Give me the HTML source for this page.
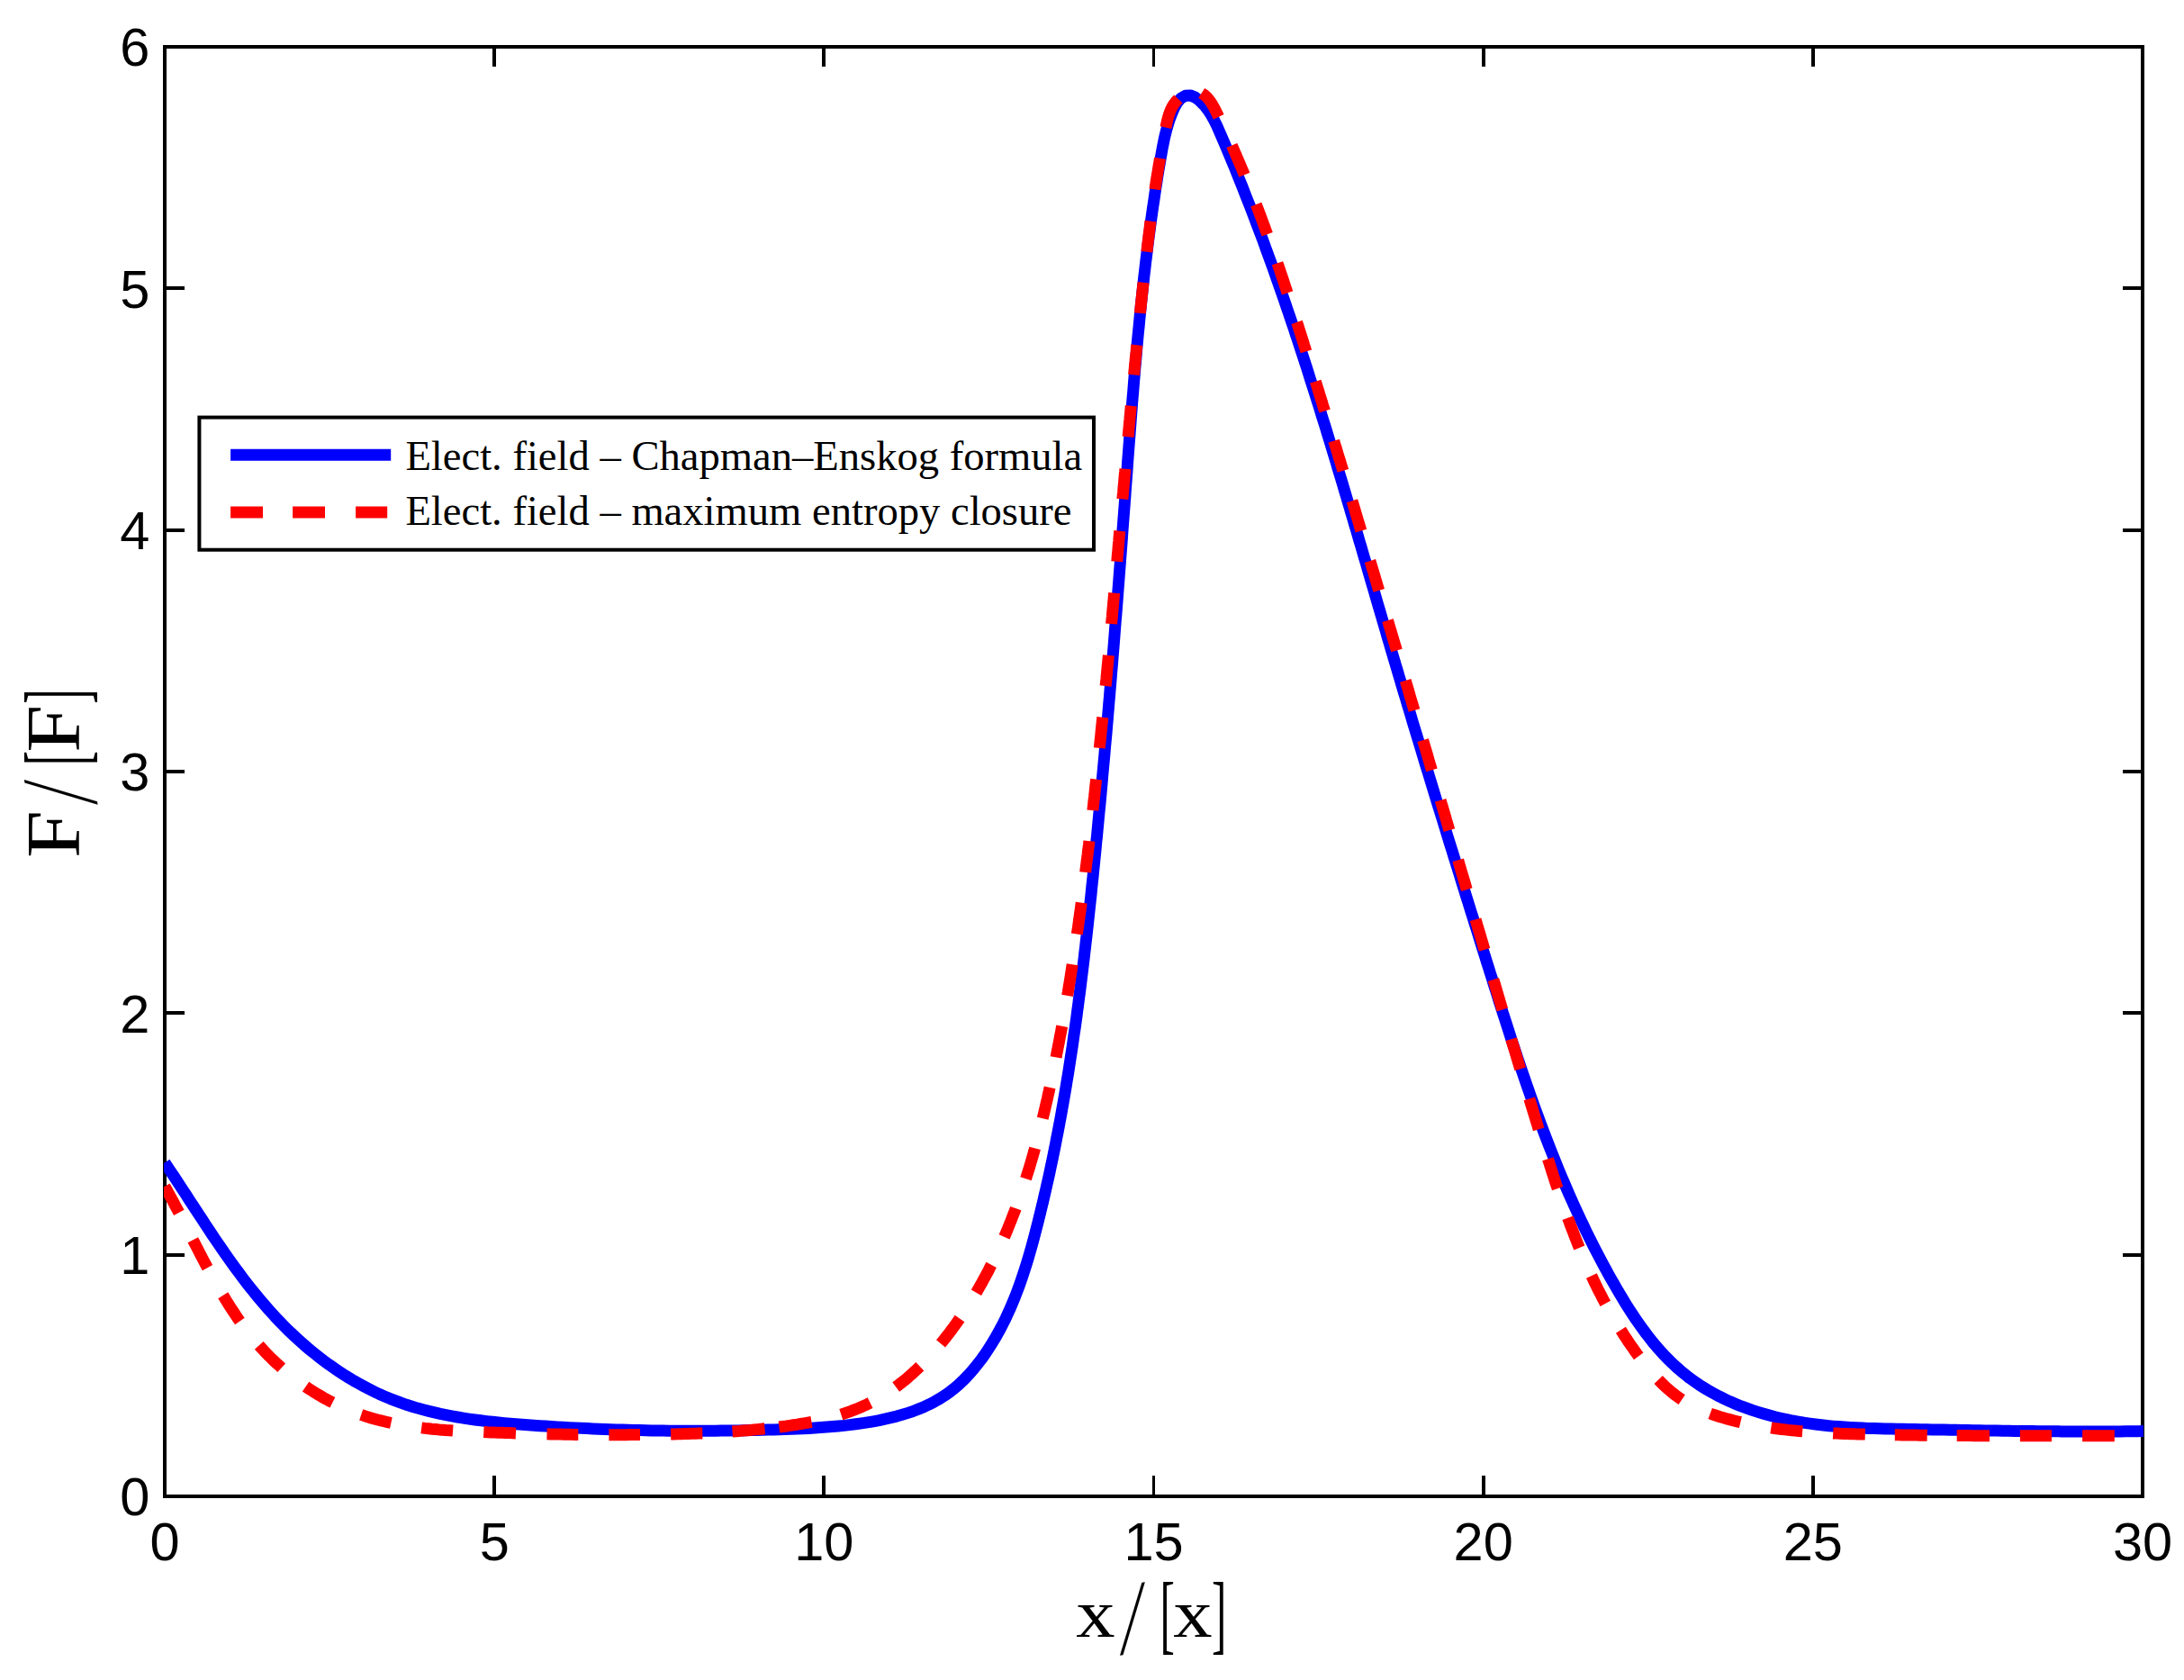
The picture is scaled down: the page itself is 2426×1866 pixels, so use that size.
<!DOCTYPE html>
<html lang="en">
<head>
<meta charset="utf-8">
<title>Electric field profile</title>
<style>
html,body{margin:0;padding:0;background:#fff;}
body{width:2426px;height:1866px;overflow:hidden;}
svg{display:block;}
.tick{font-family:"Liberation Sans",Arial,Helvetica,sans-serif;font-size:59.5px;fill:#000;}
.leg{font-family:"Liberation Serif","Times New Roman",Times,serif;font-size:46.6px;fill:#000;}
.tex{font-family:"Liberation Serif","Times New Roman",Times,serif;fill:#000;}
</style>
</head>
<body>
<svg width="2426" height="1866" viewBox="0 0 2426 1866">
<rect width="2426" height="1866" fill="#fff"/>
<defs><clipPath id="ax"><rect x="182" y="52.0" width="2199.2" height="1610.0"/></clipPath></defs>
<!-- axes box and ticks -->
<rect x="183.0" y="52.0" width="2197.0" height="1610.0" fill="none" stroke="#000" stroke-width="4.0"/>
<path d="M549 1662 V1639 M549 52 V74 M915 1662 V1639 M915 52 V74 M1648 1662 V1639 M1648 52 V74 M2014 1662 V1639 M2014 52 V74 M183 1394 H205 M2380 1394 H2358 M183 1125 H205 M2380 1125 H2358 M183 857 H205 M2380 857 H2358 M183 589 H205 M2380 589 H2358 M183 320 H205 M2380 320 H2358" fill="none" stroke="#000" stroke-width="4.0" shape-rendering="crispEdges"/>
<path d="M1281.5 1662 V1639 M1281.5 52 V74" fill="none" stroke="#000" stroke-width="3" shape-rendering="crispEdges"/>
<!-- curves -->
<g clip-path="url(#ax)" fill="none" stroke-linejoin="round">
<path d="M183 1291.4 L185.3 1294.9 L189 1300.3 L192.6 1305.7 L196.2 1311.1 L199.7 1316.5 L203.3 1322 L206.9 1327.4 L210.4 1332.9 L214 1338.4 L217.6 1343.8 L221.1 1349.3 L224.7 1354.7 L228.3 1360.2 L231.9 1365.6 L235.5 1371.1 L239.1 1376.5 L242.8 1381.9 L246.5 1387.2 L250.2 1392.6 L253.9 1397.9 L257.7 1403.2 L261.5 1408.5 L265.4 1413.7 L269.3 1419 L273.2 1424.1 L277.2 1429.2 L281.3 1434.3 L285.4 1439.4 L289.6 1444.4 L293.8 1449.3 L298.1 1454.2 L302.4 1459 L306.8 1463.8 L311.3 1468.5 L315.9 1473.2 L320.5 1477.8 L325.2 1482.3 L330 1486.8 L334.9 1491.2 L339.8 1495.5 L344.8 1499.7 L349.9 1503.8 L355 1507.8 L360.2 1511.8 L365.5 1515.7 L370.8 1519.4 L376.2 1523.1 L381.7 1526.7 L387.2 1530.1 L392.8 1533.5 L398.4 1536.7 L404.1 1539.8 L409.9 1542.8 L415.7 1545.7 L421.5 1548.5 L427.4 1551.1 L433.4 1553.6 L439.4 1555.9 L445.5 1558.2 L451.6 1560.3 L457.7 1562.2 L463.9 1564.1 L470.1 1565.8 L476.4 1567.4 L482.7 1568.9 L489.1 1570.4 L495.4 1571.7 L501.8 1572.9 L508.2 1574 L514.7 1575.1 L521.2 1576.1 L527.6 1577 L534.2 1577.8 L540.7 1578.6 L547.2 1579.3 L553.8 1580 L560.3 1580.6 L566.9 1581.2 L573.4 1581.8 L580 1582.3 L586.5 1582.8 L593.1 1583.2 L599.7 1583.7 L606.2 1584.1 L612.8 1584.5 L619.3 1584.9 L625.8 1585.3 L632.4 1585.7 L638.9 1586 L645.4 1586.3 L651.9 1586.6 L658.5 1586.9 L665 1587.2 L671.5 1587.5 L678 1587.7 L684.5 1587.9 L691 1588.1 L697.5 1588.3 L704 1588.5 L710.5 1588.6 L717 1588.8 L723.5 1588.9 L730 1589 L736.4 1589.1 L742.9 1589.2 L749.4 1589.2 L755.9 1589.3 L762.4 1589.3 L768.8 1589.3 L775.3 1589.3 L781.8 1589.3 L788.3 1589.3 L794.8 1589.2 L801.2 1589.1 L807.7 1589.1 L814.2 1589 L820.7 1588.9 L827.2 1588.8 L833.6 1588.6 L840.1 1588.5 L846.6 1588.3 L853.1 1588.1 L859.6 1587.9 L866 1587.7 L872.5 1587.5 L879 1587.3 L885.5 1587 L892 1586.7 L898.5 1586.4 L905 1586 L911.5 1585.6 L918 1585.1 L924.5 1584.6 L931 1584 L937.5 1583.4 L944 1582.6 L950.5 1581.8 L957.1 1580.9 L963.6 1579.9 L970.1 1578.8 L976.6 1577.6 L983.1 1576.2 L989.6 1574.7 L996 1573.1 L1002.3 1571.3 L1008.6 1569.4 L1014.7 1567.3 L1020.8 1564.9 L1026.8 1562.4 L1032.6 1559.7 L1038.3 1556.7 L1043.9 1553.5 L1049.3 1550.1 L1054.6 1546.4 L1059.6 1542.4 L1064.6 1538.2 L1069.3 1533.8 L1073.9 1529.2 L1078.3 1524.4 L1082.5 1519.4 L1086.6 1514.3 L1090.6 1509.1 L1094.4 1503.8 L1098 1498.3 L1101.5 1492.8 L1104.9 1487.2 L1108.1 1481.5 L1111.3 1475.8 L1114.2 1470.1 L1117.1 1464.3 L1119.8 1458.4 L1122.5 1452.5 L1125 1446.5 L1127.5 1440.5 L1129.8 1434.5 L1132.1 1428.4 L1134.2 1422.3 L1136.3 1416.1 L1138.3 1409.9 L1140.3 1403.7 L1142.2 1397.5 L1144 1391.2 L1145.8 1385 L1147.5 1378.7 L1149.2 1372.4 L1150.8 1366.1 L1152.5 1359.7 L1154 1353.4 L1155.6 1347.1 L1157.1 1340.7 L1158.7 1334.4 L1160.1 1328 L1161.6 1321.7 L1163 1315.3 L1164.5 1309 L1165.9 1302.6 L1167.2 1296.2 L1168.6 1289.9 L1169.9 1283.5 L1171.2 1277.1 L1172.5 1270.7 L1173.7 1264.3 L1175 1257.9 L1176.2 1251.5 L1177.4 1245.1 L1178.6 1238.7 L1179.7 1232.3 L1180.9 1225.9 L1182 1219.5 L1183.1 1213.1 L1184.2 1206.6 L1185.2 1200.2 L1186.3 1193.8 L1187.3 1187.4 L1188.3 1180.9 L1189.3 1174.5 L1190.3 1168 L1191.3 1161.6 L1192.2 1155.2 L1193.1 1148.7 L1194.1 1142.3 L1195 1135.8 L1195.9 1129.4 L1196.7 1122.9 L1197.6 1116.4 L1198.4 1110 L1199.3 1103.5 L1200.1 1097.1 L1200.9 1090.6 L1201.7 1084.1 L1202.5 1077.7 L1203.3 1071.2 L1204.1 1064.7 L1204.8 1058.2 L1205.6 1051.8 L1206.3 1045.3 L1207.1 1038.8 L1207.8 1032.4 L1208.5 1025.9 L1209.2 1019.4 L1209.9 1012.9 L1210.6 1006.4 L1211.3 1000 L1212 993.5 L1212.6 987 L1213.3 980.5 L1214 974.1 L1214.6 967.6 L1215.3 961.1 L1215.9 954.6 L1216.6 948.1 L1217.2 941.7 L1217.8 935.2 L1218.5 928.7 L1219.1 922.2 L1219.7 915.8 L1220.3 909.3 L1220.9 902.8 L1221.6 896.3 L1222.2 889.9 L1222.8 883.4 L1223.4 876.9 L1224 870.4 L1224.5 863.9 L1225.1 857.5 L1225.7 851 L1226.3 844.5 L1226.9 838 L1227.4 831.6 L1228 825.1 L1228.6 818.6 L1229.2 812.1 L1229.7 805.7 L1230.3 799.2 L1230.8 792.7 L1231.4 786.2 L1231.9 779.7 L1232.5 773.3 L1233 766.8 L1233.6 760.3 L1234.1 753.8 L1234.6 747.3 L1235.2 740.9 L1235.7 734.4 L1236.2 727.9 L1236.8 721.4 L1237.3 714.9 L1237.8 708.4 L1238.3 702 L1238.8 695.5 L1239.3 689 L1239.9 682.5 L1240.4 676 L1240.9 669.5 L1241.4 663 L1241.9 656.5 L1242.4 650 L1242.9 643.6 L1243.4 637.1 L1243.9 630.6 L1244.4 624.1 L1244.9 617.6 L1245.4 611.1 L1245.9 604.6 L1246.4 598.1 L1246.8 591.6 L1247.3 585.1 L1247.8 578.6 L1248.3 572.1 L1248.8 565.6 L1249.3 559.1 L1249.8 552.5 L1250.2 546 L1250.7 539.5 L1251.2 533 L1251.7 526.5 L1252.2 520 L1252.6 513.5 L1253.1 507 L1253.6 500.4 L1254.1 493.9 L1254.6 487.4 L1255.1 480.9 L1255.6 474.4 L1256.1 467.9 L1256.6 461.3 L1257.1 454.8 L1257.6 448.3 L1258.1 441.8 L1258.7 435.3 L1259.2 428.8 L1259.7 422.3 L1260.3 415.8 L1260.8 409.3 L1261.4 402.8 L1262 396.3 L1262.5 389.8 L1263.1 383.3 L1263.7 376.8 L1264.3 370.3 L1265 363.8 L1265.6 357.3 L1266.2 350.8 L1266.9 344.3 L1267.5 337.8 L1268.2 331.4 L1268.9 324.9 L1269.6 318.4 L1270.3 312 L1271 305.5 L1271.8 299 L1272.5 292.6 L1273.3 286.1 L1274.1 279.7 L1274.9 273.2 L1275.7 266.8 L1276.5 260.4 L1277.4 253.9 L1278.2 247.5 L1279.1 241.1 L1280 234.7 L1280.9 228.3 L1281.9 221.9 L1282.8 215.5 L1283.8 209.1 L1284.8 202.7 L1285.8 196.3 L1286.8 189.9 L1287.9 183.6 L1289 177.2 L1290.1 170.9 L1291.2 164.5 L1292.5 158.1 L1293.8 151.8 L1295.4 145.4 L1297.2 139 L1299.2 132.6 L1301.7 126.1 L1304.5 119.7 L1307.8 113.8 L1311.8 109.1 L1316.7 106.3 L1322.1 105.9 L1327.6 108.1 L1332.9 112.1 L1337.8 117.1 L1342 122.5 L1345.6 128.1 L1348.8 133.8 L1351.7 139.7 L1354.3 145.6 L1356.9 151.6 L1359.5 157.6 L1362 163.6 L1364.5 169.6 L1367 175.6 L1369.5 181.6 L1372 187.6 L1374.4 193.6 L1376.8 199.6 L1379.3 205.7 L1381.6 211.7 L1384 217.8 L1386.4 223.8 L1388.8 229.9 L1391.1 235.9 L1393.4 242 L1395.7 248.1 L1398 254.2 L1400.3 260.2 L1402.6 266.3 L1404.8 272.4 L1407 278.5 L1409.3 284.7 L1411.5 290.8 L1413.7 296.9 L1415.9 303 L1418 309.2 L1420.2 315.3 L1422.3 321.4 L1424.5 327.6 L1426.6 333.7 L1428.7 339.9 L1430.8 346 L1432.9 352.2 L1435 358.4 L1437.1 364.5 L1439.1 370.7 L1441.2 376.9 L1443.2 383.1 L1445.2 389.3 L1447.3 395.5 L1449.3 401.7 L1451.3 407.8 L1453.3 414.1 L1455.2 420.3 L1457.2 426.5 L1459.2 432.7 L1461.2 438.9 L1463.1 445.1 L1465.1 451.3 L1467 457.5 L1468.9 463.8 L1470.9 470 L1472.8 476.2 L1474.7 482.5 L1476.6 488.7 L1478.5 494.9 L1480.4 501.2 L1482.3 507.4 L1484.2 513.6 L1486 519.9 L1487.9 526.1 L1489.8 532.4 L1491.7 538.6 L1493.5 544.9 L1495.4 551.1 L1497.2 557.4 L1499.1 563.6 L1500.9 569.9 L1502.8 576.1 L1504.6 582.4 L1506.5 588.7 L1508.3 594.9 L1510.1 601.2 L1512 607.4 L1513.8 613.7 L1515.6 620 L1517.5 626.2 L1519.3 632.5 L1521.1 638.7 L1522.9 645 L1524.8 651.3 L1526.6 657.5 L1528.4 663.8 L1530.2 670 L1532.1 676.3 L1533.9 682.5 L1535.7 688.8 L1537.6 695.1 L1539.4 701.3 L1541.2 707.6 L1543.1 713.8 L1544.9 720.1 L1546.7 726.3 L1548.6 732.6 L1550.4 738.8 L1552.3 745 L1554.1 751.3 L1556 757.5 L1557.8 763.8 L1559.7 770 L1561.6 776.2 L1563.4 782.5 L1565.3 788.7 L1567.2 794.9 L1569 801.2 L1570.9 807.4 L1572.8 813.6 L1574.7 819.9 L1576.6 826.1 L1578.5 832.3 L1580.3 838.5 L1582.2 844.8 L1584.1 851 L1586 857.2 L1587.9 863.4 L1589.8 869.7 L1591.7 875.9 L1593.6 882.1 L1595.5 888.3 L1597.4 894.5 L1599.3 900.7 L1601.3 907 L1603.2 913.2 L1605.1 919.4 L1607 925.6 L1608.9 931.8 L1610.8 938 L1612.8 944.3 L1614.7 950.5 L1616.6 956.7 L1618.6 962.9 L1620.5 969.1 L1622.4 975.3 L1624.3 981.5 L1626.3 987.7 L1628.2 994 L1630.2 1000.2 L1632.1 1006.4 L1634 1012.6 L1636 1018.8 L1637.9 1025 L1639.9 1031.2 L1641.8 1037.4 L1643.7 1043.7 L1645.7 1049.9 L1647.6 1056.1 L1649.6 1062.3 L1651.5 1068.5 L1653.5 1074.7 L1655.4 1080.9 L1657.4 1087.1 L1659.3 1093.4 L1661.3 1099.6 L1663.3 1105.8 L1665.2 1112 L1667.2 1118.2 L1669.2 1124.4 L1671.2 1130.6 L1673.2 1136.8 L1675.2 1143 L1677.2 1149.2 L1679.2 1155.4 L1681.2 1161.6 L1683.3 1167.8 L1685.3 1174 L1687.4 1180.2 L1689.5 1186.3 L1691.6 1192.5 L1693.7 1198.7 L1695.8 1204.8 L1698 1211 L1700.1 1217.1 L1702.3 1223.2 L1704.5 1229.4 L1706.7 1235.5 L1709 1241.6 L1711.2 1247.7 L1713.5 1253.8 L1715.8 1259.9 L1718.1 1265.9 L1720.5 1272 L1722.9 1278.1 L1725.3 1284.1 L1727.7 1290.1 L1730.1 1296.2 L1732.6 1302.2 L1735.1 1308.2 L1737.7 1314.2 L1740.2 1320.1 L1742.8 1326.1 L1745.5 1332.1 L1748.1 1338 L1750.8 1343.9 L1753.5 1349.8 L1756.3 1355.7 L1759.1 1361.6 L1761.9 1367.5 L1764.8 1373.3 L1767.7 1379.2 L1770.6 1385 L1773.6 1390.8 L1776.6 1396.6 L1779.7 1402.3 L1782.8 1408.1 L1785.9 1413.8 L1789.1 1419.6 L1792.4 1425.3 L1795.6 1430.9 L1798.9 1436.6 L1802.3 1442.2 L1805.7 1447.8 L1809.2 1453.4 L1812.8 1458.9 L1816.4 1464.3 L1820.1 1469.7 L1823.9 1475 L1827.7 1480.2 L1831.7 1485.4 L1835.7 1490.5 L1839.8 1495.4 L1844.1 1500.3 L1848.4 1505 L1852.9 1509.6 L1857.5 1514.1 L1862.2 1518.5 L1867 1522.7 L1872 1526.8 L1877.1 1530.8 L1882.3 1534.5 L1887.6 1538.2 L1893.1 1541.6 L1898.7 1545 L1904.4 1548.1 L1910.2 1551.2 L1916.1 1554.1 L1922 1556.8 L1928.1 1559.4 L1934.2 1561.9 L1940.4 1564.2 L1946.6 1566.4 L1952.8 1568.4 L1959.1 1570.3 L1965.5 1572.1 L1971.8 1573.8 L1978.2 1575.3 L1984.6 1576.7 L1991 1578 L1997.4 1579.1 L2003.8 1580.2 L2010.2 1581.1 L2016.7 1582 L2023.1 1582.8 L2029.6 1583.5 L2036 1584.1 L2042.5 1584.6 L2049 1585.1 L2055.4 1585.5 L2061.9 1585.8 L2068.4 1586.1 L2074.9 1586.4 L2081.4 1586.6 L2087.9 1586.8 L2094.4 1587 L2100.9 1587.1 L2107.4 1587.2 L2113.9 1587.3 L2120.5 1587.4 L2127 1587.6 L2133.5 1587.7 L2140 1587.8 L2146.5 1587.9 L2153 1588 L2159.5 1588.1 L2166.1 1588.2 L2172.6 1588.3 L2179.1 1588.5 L2185.6 1588.6 L2192.1 1588.7 L2198.6 1588.8 L2205.2 1588.9 L2211.7 1589 L2218.2 1589.1 L2224.7 1589.2 L2231.2 1589.3 L2237.7 1589.4 L2244.3 1589.4 L2250.8 1589.5 L2257.3 1589.6 L2263.8 1589.7 L2270.3 1589.7 L2276.8 1589.8 L2283.3 1589.8 L2289.9 1589.9 L2296.4 1589.9 L2302.9 1589.9 L2309.4 1590 L2315.9 1590 L2322.4 1590 L2328.9 1590 L2335.4 1590 L2341.9 1589.9 L2348.5 1589.9 L2355 1589.9 L2361.5 1589.8 L2368 1589.8 L2374.5 1589.7 L2381 1589.6" stroke="#0000ff" stroke-width="13.0"/>
<path d="M183 1317.8 L184.8 1321 L186.6 1324.2 L188.3 1327.4 L190.1 1330.7 L191.9 1333.9 L193.6 1337.1 L195.3 1340.4 L197.1 1343.7 L198.8 1346.9 M214.3 1377.2 L216.1 1380.6 L217.9 1384.1 L219.7 1387.5 L221.4 1391 L223.2 1394.4 L225 1397.9 L226.8 1401.3 L228.6 1404.7 L230.5 1408.1 M247.8 1438.8 L249.8 1442 L251.8 1445.3 L253.8 1448.5 L255.8 1451.7 L257.9 1454.9 L260 1458 L262.1 1461.2 L264.2 1464.3 L266.4 1467.4 M287.7 1494.3 L290.3 1497.2 L293 1500.1 L295.7 1502.9 L298.4 1505.7 L301.2 1508.5 L304 1511.2 L306.9 1513.9 L309.8 1516.5 L312.7 1519.2 M339.6 1540.1 L342.8 1542.3 L346 1544.4 L349.3 1546.5 L352.6 1548.5 L355.9 1550.4 L359.2 1552.4 L362.6 1554.2 L366 1556.1 L369.4 1557.8 M401.2 1571.4 L404.8 1572.6 L408.4 1573.8 L412.1 1574.9 L415.8 1576 L419.5 1577 L423.2 1577.9 L426.9 1578.8 L430.6 1579.7 L434.4 1580.5 M468.2 1585.9 L472 1586.4 L475.9 1586.8 L479.8 1587.2 L483.6 1587.5 L487.5 1587.9 L491.4 1588.2 L495.3 1588.5 L499.2 1588.7 L503.1 1589 M537.3 1590.6 L541.3 1590.8 L545.2 1590.9 L549.2 1591.1 L553.2 1591.2 L557.1 1591.3 L561.1 1591.5 L565.1 1591.6 L569 1591.7 L573 1591.9 M607.5 1592.8 L611.4 1592.9 L615.3 1593 L619.1 1593 L623 1593.1 L626.8 1593.2 L630.7 1593.2 L634.6 1593.3 L638.4 1593.4 L642.3 1593.4 M676.4 1593.7 L680.3 1593.7 L684.1 1593.7 L688 1593.7 L691.8 1593.7 L695.6 1593.7 L699.5 1593.6 L703.3 1593.6 L707.1 1593.6 L711 1593.6 M745.1 1593 L749 1592.9 L752.9 1592.8 L756.8 1592.7 L760.7 1592.6 L764.6 1592.5 L768.5 1592.3 L772.4 1592.2 L776.3 1592 L780.3 1591.9 M813.5 1590 L817.5 1589.7 L821.5 1589.4 L825.5 1589 L829.5 1588.7 L833.5 1588.4 L837.5 1588 L841.5 1587.6 L845.5 1587.2 L849.5 1586.8 M865.4 1585 L869.5 1584.5 L873.5 1584 L877.5 1583.4 L881.5 1582.8 L885.5 1582.2 L889.5 1581.5 L893.5 1580.8 L897.5 1580.1 L901.5 1579.4 M934.3 1571.1 L938 1569.9 L941.7 1568.6 L945.4 1567.3 L949 1565.9 L952.6 1564.5 L956.2 1563 L959.7 1561.4 L963.2 1559.8 L966.6 1558.1 M995.2 1540.5 L998.3 1538.2 L1001.3 1535.8 L1004.4 1533.4 L1007.4 1530.9 L1010.3 1528.4 L1013.2 1525.8 L1016.1 1523.2 L1019 1520.5 L1021.8 1517.8 M1045 1492.4 L1047.5 1489.4 L1049.9 1486.4 L1052.3 1483.3 L1054.7 1480.3 L1057 1477.1 L1059.3 1474 L1061.6 1470.9 L1063.8 1467.7 L1066 1464.5 M1084.4 1435.7 L1086.4 1432.3 L1088.3 1428.9 L1090.3 1425.5 L1092.1 1422.1 L1094 1418.7 L1095.8 1415.3 L1097.7 1411.8 L1099.4 1408.3 L1101.2 1404.9 M1115.6 1373.9 L1117.1 1370.4 L1118.6 1366.9 L1120 1363.4 L1121.4 1359.8 L1122.9 1356.3 L1124.2 1352.8 L1125.6 1349.2 L1127 1345.7 L1128.3 1342.1 M1139.5 1309.3 L1140.7 1305.6 L1141.9 1301.8 L1143.1 1298.1 L1144.2 1294.3 L1145.3 1290.5 L1146.4 1286.7 L1147.5 1282.9 L1148.6 1279.1 L1149.6 1275.3 M1158.2 1242.3 L1159.1 1238.5 L1160 1234.7 L1160.9 1230.9 L1161.8 1227.1 L1162.7 1223.2 L1163.6 1219.4 L1164.4 1215.6 L1165.3 1211.7 L1166.1 1207.9 M1173.1 1174.3 L1173.8 1170.4 L1174.6 1166.6 L1175.3 1162.7 L1176.1 1158.9 L1176.8 1155 L1177.5 1151.2 L1178.3 1147.4 L1179 1143.5 L1179.7 1139.7 M1185.6 1105.9 L1186.3 1102.1 L1186.9 1098.2 L1187.5 1094.4 L1188.2 1090.5 L1188.8 1086.7 L1189.4 1082.8 L1190 1079 L1190.6 1075.1 L1191.2 1071.3 M1196.3 1037.6 L1196.9 1033.7 L1197.5 1029.8 L1198 1026 L1198.5 1022.1 L1199.1 1018.2 L1199.6 1014.4 L1200.2 1010.5 L1200.7 1006.6 L1201.2 1002.7 M1205.7 968.8 L1206.1 964.9 L1206.6 961.1 L1207.1 957.2 L1207.6 953.4 L1208.1 949.5 L1208.5 945.7 L1209 941.8 L1209.5 938 L1209.9 934.1 M1213.9 900.1 L1214.3 896.3 L1214.7 892.5 L1215.1 888.6 L1215.6 884.8 L1216 881 L1216.4 877.1 L1216.8 873.3 L1217.2 869.5 L1217.7 865.7 M1221.3 830.9 L1221.7 827.1 L1222.1 823.3 L1222.5 819.5 L1222.9 815.7 L1223.2 811.9 L1223.6 808.1 L1224 804.3 L1224.4 800.5 L1224.8 796.7 M1228.1 762 L1228.5 758.2 L1228.9 754.4 L1229.2 750.7 L1229.6 746.9 L1229.9 743.1 L1230.3 739.3 L1230.7 735.5 L1231 731.7 L1231.4 727.9 M1234.6 693 L1234.9 689.2 L1235.3 685.3 L1235.6 681.5 L1235.9 677.7 L1236.3 673.9 L1236.6 670.1 L1237 666.3 L1237.3 662.4 L1237.7 658.6 M1240.8 623.7 L1241.1 619.9 L1241.4 616.1 L1241.8 612.4 L1242.1 608.6 L1242.4 604.8 L1242.8 601.1 L1243.1 597.3 L1243.4 593.5 L1243.8 589.7 M1246.9 554.4 L1247.2 550.7 L1247.6 546.9 L1247.9 543.2 L1248.2 539.4 L1248.6 535.7 L1248.9 531.9 L1249.2 528.2 L1249.6 524.4 L1249.9 520.7 M1253.1 485.3 L1253.5 481.5 L1253.8 477.6 L1254.2 473.8 L1254.5 470 L1254.9 466.1 L1255.2 462.3 L1255.6 458.5 L1255.9 454.6 L1256.3 450.8 M1259.6 416.4 L1259.9 412.7 L1260.3 409 L1260.6 405.3 L1261 401.6 L1261.3 397.9 L1261.7 394.3 L1262.1 390.6 L1262.4 386.9 L1262.8 383.2 M1266.4 347.9 L1266.8 344.1 L1267.2 340.3 L1267.6 336.5 L1268 332.7 L1268.4 328.9 L1268.8 325.2 L1269.2 321.4 L1269.6 317.6 L1270 313.8 M1273.9 279.7 L1274.3 275.9 L1274.7 272.2 L1275.2 268.4 L1275.7 264.6 L1276.1 260.8 L1276.6 257 L1277.1 253.3 L1277.5 249.5 L1278 245.7 M1283 210.3 L1283.5 206.5 L1284.1 202.6 L1284.7 198.8 L1285.3 195 L1286 191.1 L1286.6 187.3 L1287.2 183.4 L1287.9 179.6 L1288.5 175.7 M1294.9 141.6 L1295.8 137.7 L1296.6 133.8 L1297.6 130 L1298.8 126.3 L1300.2 122.6 L1301.8 119.2 L1303.8 115.9 L1306.1 112.8 L1308.9 109.9 M1334.7 103.4 L1337.3 105.1 L1339.8 107.2 L1342.1 109.7 L1344.3 112.5 L1346.3 115.6 L1348.3 119 L1350.1 122.5 L1351.9 126.1 L1353.7 129.8 M1368.3 161.5 L1369.9 165.2 L1371.5 168.8 L1373.1 172.4 L1374.6 176.1 L1376.2 179.7 L1377.7 183.3 L1379.3 187 L1380.8 190.6 L1382.3 194.3 M1395.3 227.1 L1396.7 230.8 L1398.1 234.4 L1399.5 238.1 L1400.9 241.8 L1402.3 245.5 L1403.6 249.1 L1405 252.8 L1406.3 256.5 L1407.7 260.2 M1419 292.3 L1420.2 296 L1421.5 299.7 L1422.7 303.3 L1424 307 L1425.2 310.6 L1426.4 314.3 L1427.6 318 L1428.8 321.6 L1430.1 325.3 M1440.6 357.9 L1441.8 361.5 L1442.9 365.1 L1444.1 368.7 L1445.2 372.3 L1446.4 375.9 L1447.5 379.5 L1448.6 383.2 L1449.8 386.8 L1450.9 390.4 M1461.3 423.6 L1462.4 427.2 L1463.6 430.9 L1464.7 434.5 L1465.8 438.2 L1467 441.9 L1468.1 445.5 L1469.2 449.2 L1470.4 452.9 L1471.5 456.5 M1481.7 489.7 L1482.8 493.4 L1484 497.1 L1485.1 500.8 L1486.2 504.5 L1487.3 508.1 L1488.5 511.8 L1489.6 515.5 L1490.7 519.2 L1491.8 522.9 M1501.9 556.3 L1503.1 560 L1504.2 563.7 L1505.3 567.4 L1506.4 571.1 L1507.5 574.8 L1508.6 578.5 L1509.7 582.2 L1510.8 585.9 L1511.9 589.6 M1521.9 623 L1523 626.6 L1524.1 630.3 L1525.2 633.9 L1526.3 637.6 L1527.4 641.2 L1528.4 644.9 L1529.5 648.5 L1530.6 652.2 L1531.7 655.8 M1541.5 689.1 L1542.6 692.8 L1543.7 696.5 L1544.8 700.2 L1545.9 703.9 L1547 707.6 L1548.1 711.3 L1549.2 715 L1550.3 718.7 L1551.4 722.5 M1561.2 755.9 L1562.3 759.6 L1563.4 763.2 L1564.5 766.9 L1565.5 770.6 L1566.6 774.3 L1567.7 778 L1568.8 781.7 L1569.9 785.3 L1570.9 789 M1580.6 822.1 L1581.7 825.8 L1582.8 829.5 L1583.9 833.2 L1585 836.9 L1586.1 840.6 L1587.1 844.3 L1588.2 848 L1589.3 851.7 L1590.4 855.4 M1600.1 888.8 L1601.2 892.5 L1602.3 896.2 L1603.4 899.9 L1604.5 903.6 L1605.6 907.3 L1606.6 911 L1607.7 914.7 L1608.8 918.4 L1609.9 922.1 M1619.7 955.3 L1620.7 959 L1621.8 962.6 L1622.9 966.3 L1623.9 969.9 L1625 973.5 L1626.1 977.2 L1627.2 980.8 L1628.2 984.5 L1629.3 988.1 M1639.1 1021.3 L1640.2 1025.1 L1641.3 1028.8 L1642.4 1032.5 L1643.5 1036.2 L1644.6 1039.9 L1645.7 1043.7 L1646.8 1047.4 L1647.9 1051.1 L1649 1054.8 M1658.8 1087.9 L1660 1091.6 L1661.1 1095.3 L1662.2 1099.1 L1663.3 1102.8 L1664.4 1106.5 L1665.5 1110.2 L1666.6 1114 L1667.7 1117.7 L1668.9 1121.4 M1678.7 1154.2 L1679.8 1157.9 L1680.9 1161.6 L1682.1 1165.3 L1683.2 1168.9 L1684.3 1172.6 L1685.4 1176.3 L1686.5 1180 L1687.6 1183.7 L1688.7 1187.3 M1698.8 1220.4 L1700 1224.2 L1701.1 1227.9 L1702.3 1231.7 L1703.4 1235.5 L1704.6 1239.2 L1705.7 1243 L1706.9 1246.8 L1708.1 1250.6 L1709.2 1254.3 M1719.4 1287.2 L1720.6 1290.8 L1721.8 1294.5 L1723 1298.2 L1724.1 1301.9 L1725.3 1305.5 L1726.5 1309.2 L1727.7 1312.9 L1728.9 1316.5 L1730.2 1320.2 M1741.5 1352.7 L1742.9 1356.4 L1744.2 1360.1 L1745.6 1363.8 L1747.1 1367.5 L1748.5 1371.2 L1749.9 1374.9 L1751.4 1378.6 L1752.8 1382.3 L1754.3 1385.9 M1767.9 1417 L1769.5 1420.5 L1771.1 1424 L1772.8 1427.4 L1774.5 1430.9 L1776.2 1434.3 L1778 1437.7 L1779.7 1441.1 L1781.5 1444.5 L1783.3 1447.9 M1800.4 1477.3 L1802.5 1480.6 L1804.6 1483.9 L1806.8 1487.1 L1808.9 1490.4 L1811.1 1493.6 L1813.4 1496.8 L1815.6 1500 L1817.9 1503.2 L1820.2 1506.3 M1842.2 1532.6 L1844.8 1535.3 L1847.6 1538 L1850.3 1540.6 L1853.2 1543.1 L1856.1 1545.6 L1859 1548 L1862 1550.3 L1865.1 1552.5 L1868.2 1554.6 M1899.7 1570 L1903.3 1571.3 L1907 1572.5 L1910.7 1573.7 L1914.5 1574.8 L1918.2 1575.9 L1922 1576.9 L1925.8 1577.9 L1929.6 1578.8 L1933.4 1579.7 M1967.3 1585.9 L1971.2 1586.5 L1975.1 1587 L1979 1587.5 L1982.8 1587.9 L1986.7 1588.4 L1990.6 1588.8 L1994.5 1589.1 L1998.3 1589.5 L2002.2 1589.8 M2036.2 1591.9 L2040.1 1592.1 L2044.1 1592.3 L2048.1 1592.4 L2052 1592.5 L2056 1592.7 L2059.9 1592.8 L2063.9 1592.9 L2067.9 1593 L2071.8 1593.1 M2104.8 1593.8 L2108.8 1593.8 L2112.8 1593.9 L2116.8 1594 L2120.7 1594 L2124.7 1594.1 L2128.7 1594.1 L2132.7 1594.2 L2136.7 1594.2 L2140.7 1594.3 M2173.7 1594.6 L2177.4 1594.6 L2181 1594.6 L2184.6 1594.6 L2188.2 1594.6 L2191.9 1594.7 L2195.5 1594.7 L2199.1 1594.7 L2202.7 1594.7 L2206.4 1594.7 L2210 1594.7 M2243.9 1594.8 L2247.8 1594.8 L2251.7 1594.8 L2255.6 1594.8 L2259.5 1594.8 L2263.4 1594.8 L2267.3 1594.8 L2271.2 1594.8 L2275.1 1594.8 L2279 1594.8 M2313.1 1594.8 L2317.1 1594.8 L2321.1 1594.8 L2325.1 1594.8 L2329 1594.8 L2333 1594.8 L2336.9 1594.8 L2340.9 1594.8 L2344.9 1594.8 L2348.8 1594.8" stroke="#ff0000" stroke-width="13.0"/>
</g>
<!-- tick labels -->
<g class="tick"><text x="183" y="1732.6" text-anchor="middle">0</text><text x="549.2" y="1732.6" text-anchor="middle">5</text><text x="915.3" y="1732.6" text-anchor="middle">10</text><text x="1281.5" y="1732.6" text-anchor="middle">15</text><text x="1647.7" y="1732.6" text-anchor="middle">20</text><text x="2013.8" y="1732.6" text-anchor="middle">25</text><text x="2380" y="1732.6" text-anchor="middle">30</text><text x="166.3" y="1683.4" text-anchor="end">0</text><text x="166.3" y="1415.1" text-anchor="end">1</text><text x="166.3" y="1146.7" text-anchor="end">2</text><text x="166.3" y="878.4" text-anchor="end">3</text><text x="166.3" y="610.1" text-anchor="end">4</text><text x="166.3" y="341.7" text-anchor="end">5</text><text x="166.3" y="73.4" text-anchor="end">6</text></g>
<g class="tex"><text transform="translate(1195.2 1818) scale(1.14 1)" font-size="76">x</text><text transform="translate(1243.8 1829.9) rotate(15.85) scale(0.66 1) rotate(-15.85)" font-size="98.5" style="font-family:'DejaVu Sans Light','DejaVu Sans',sans-serif">/</text><text transform="translate(1288.5 1825) scale(0.5 1)" font-size="98.3">[</text><text transform="translate(1303.2 1818) scale(1.14 1)" font-size="76">x</text><text transform="translate(1346.1 1825) scale(0.5 1)" font-size="98.3">]</text><g transform="translate(87.8 950) rotate(-90)"><text transform="translate(-2.9 0) scale(1.13 1)" font-size="84.3">F</text><text transform="translate(56.1 11.9) rotate(15.85) scale(0.66 1) rotate(-15.85)" font-size="98.5" style="font-family:'DejaVu Sans Light','DejaVu Sans',sans-serif">/</text><text transform="translate(99.8 7) scale(0.5 1)" font-size="98.3">[</text><text transform="translate(114.3 0) scale(1.13 1)" font-size="84.3">F</text><text transform="translate(168.3 7) scale(0.5 1)" font-size="98.3">]</text></g></g>
<g>
<rect x="221.4" y="463.6" width="993.6" height="147.1" fill="#fff" stroke="#000" stroke-width="4.0"/>
<path d="M256.1 505.3 H434.2" stroke="#0000ff" stroke-width="13.0" fill="none"/>
<path d="M256.1 569 H292 M325.1 569 H361 M395.1 569 H430.2" stroke="#ff0000" stroke-width="13.0" fill="none"/>
<text class="leg" x="450.4" y="521.6">Elect. field – Chapman–Enskog formula</text>
<text class="leg" x="450.4" y="583">Elect. field – maximum entropy closure</text>
</g>
</svg>
</body>
</html>
